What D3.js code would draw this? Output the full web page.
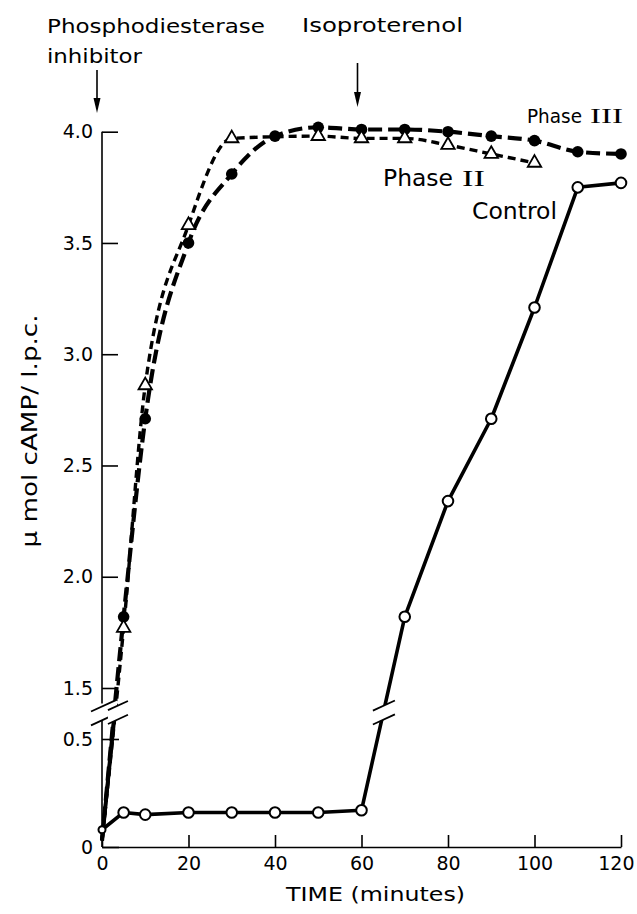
<!DOCTYPE html>
<html>
<head>
<meta charset="utf-8">
<script src="https://cdn.jsdelivr.net/npm/d3@7"></script>
<style>
  body { margin: 0; background: #fff; }
</style>
</head>
<body>
<div id="chart"></div>
<script>
// values (minutes, umol cAMP / l.p.c.)
const times = [0, 5, 10, 20, 30, 40, 50, 60, 70, 80, 90, 100, 110, 120];
const phase3 = [0.03, 1.82, 2.71, 3.50, 3.81, 3.98, 4.02, 4.01, 4.01, 4.00, 3.98, 3.96, 3.91, 3.90];
const phase2Times = [0, 5, 10, 20, 30, 50, 60, 70, 80, 90, 100];
const phase2 = [0.03, 1.77, 2.86, 3.58, 3.97, 3.98, 3.97, 3.97, 3.94, 3.90, 3.86];
const control = [0.08, 0.16, 0.15, 0.16, 0.16, 0.16, 0.16, 0.17, 1.82, 2.34, 2.71, 3.21, 3.75, 3.77];
const xTicks = [0, 20, 40, 60, 80, 100, 120];
const yTicksUpper = [1.5, 2.0, 2.5, 3.0, 3.5, 4.0];
const yTicksLower = [0, 0.5];

const W = 637, H = 914;
const FONT = '"DejaVu Sans", "Liberation Sans", sans-serif';
const SERIF = '"Liberation Serif", "DejaVu Serif", serif';

const svg = d3.select('#chart').append('svg')
  .attr('width', W)
  .attr('height', H)
  .style('font-family', FONT);

// broken y axis: two linear pieces
const x = d3.scaleLinear().domain([0, 120]).range([102, 621]);
const yHigh = d3.scaleLinear().domain([1.5, 4.0]).range([688, 131.7]);
const yLow = d3.scaleLinear().domain([0, 0.5]).range([847, 739]);
const HIGH_MIN = 1.43, LOW_MAX = 0.6;
const y = v => (v < 1 ? yLow(v) : yHigh(v));

const toPts = (ts, vs) => ts.map((t, i) => ({ t, v: vs[i] }));
const p3 = toPts(times, phase3);
const p2 = toPts(phase2Times, phase2);
const ctl = toPts(times, control);

// ---- axes ----
const styleAxis = g => {
  g.attr('font-size', 19).attr('font-family', FONT);
  g.selectAll('line').attr('stroke', '#000').attr('stroke-width', 1.6);
  g.selectAll('path').attr('stroke', '#000').attr('stroke-width', 1.6);
  g.selectAll('text').attr('fill', '#000');
};

const gHigh = svg.append('g')
  .attr('transform', `translate(${x(0)},0)`)
  .call(d3.axisLeft(yHigh).tickValues(yTicksUpper).tickFormat(d3.format('.1f'))
    .tickSizeInner(-16).tickSizeOuter(0).tickPadding(9));
gHigh.select('.domain').remove();
gHigh.append('line').attr('y1', yHigh(4.0)).attr('y2', yHigh(HIGH_MIN));
styleAxis(gHigh);

const gLow = svg.append('g')
  .attr('transform', `translate(${x(0)},0)`)
  .call(d3.axisLeft(yLow).tickValues(yTicksLower)
    .tickFormat(d => (d === 0 ? '0' : d3.format('.1f')(d)))
    .tickSizeInner(-17).tickSizeOuter(0).tickPadding(9));
gLow.select('.domain').remove();
gLow.append('line').attr('y1', yLow(0)).attr('y2', yLow(LOW_MAX));
styleAxis(gLow);

const gX = svg.append('g')
  .attr('transform', `translate(0,${yLow(0)})`)
  .call(d3.axisBottom(x).tickValues(xTicks).tickSizeInner(-12).tickSizeOuter(0).tickPadding(10));
styleAxis(gX);
// keep the last label inside the page
gX.selectAll('.tick text').filter(d => d === 120)
  .attr('text-anchor', 'end').attr('x', W - 3 - x(120));

// ---- lines ----
const lineSmooth = d3.line().x(d => x(d.t)).y(d => y(d.v)).curve(d3.curveMonotoneX);
const lineStraight = d3.line().x(d => x(d.t)).y(d => y(d.v));

svg.append('clipPath').attr('id', 'lowClip')
  .append('rect').attr('x', 0).attr('y', yLow(LOW_MAX)).attr('width', W).attr('height', H);

const path2 = svg.append('path').datum(p2)
  .attr('d', lineSmooth).attr('fill', 'none').attr('stroke', '#000')
  .attr('stroke-width', 3.4).attr('stroke-dasharray', '8,5');
const path3 = svg.append('path').datum(p3)
  .attr('d', lineSmooth).attr('fill', 'none').attr('stroke', '#000')
  .attr('stroke-width', 4.2).attr('stroke-dasharray', '14,6');
// below the break the two phases are drawn solid
[p2, p3].forEach(s => {
  svg.append('path').datum(s)
    .attr('d', lineSmooth).attr('fill', 'none').attr('stroke', '#000')
    .attr('stroke-width', 3.6).attr('clip-path', 'url(#lowClip)');
});
const pathC = svg.append('path').datum(ctl)
  .attr('d', lineStraight).attr('fill', 'none').attr('stroke', '#000')
  .attr('stroke-width', 3.6).attr('stroke-linejoin', 'round');

// ---- axis breaks ----
const breakMid = (yHigh(HIGH_MIN) + yLow(LOW_MAX)) / 2;
function crossing(node) {
  const L = node.getTotalLength();
  let prev = node.getPointAtLength(0);
  for (let s = 1; s <= L; s += 0.5) {
    const p = node.getPointAtLength(s);
    if ((prev.y - breakMid) * (p.y - breakMid) <= 0) return p.x;
    prev = p;
  }
  return null;
}
function drawBreak(cx, half) {
  const slope = 0.46;
  const yA = yHigh(HIGH_MIN) + 2, yB = yLow(LOW_MAX) + 2;
  const seg = yy => [[cx - half, yy + half * slope], [cx + half, yy - half * slope]];
  const a = seg(yA), b = seg(yB);
  svg.append('path')
    .attr('d', d3.line()([a[0], a[1], b[1], b[0]]) + 'Z')
    .attr('fill', '#fff');
  [a, b].forEach(s => svg.append('path').attr('d', d3.line()(s))
    .attr('stroke', '#000').attr('stroke-width', 1.8));
}
drawBreak(x(0) + 2, 13);
const phaseX = (crossing(path2.node()) + crossing(path3.node())) / 2;
drawBreak(phaseX + 3, 10);
drawBreak(crossing(pathC.node()), 11);

// ---- markers ----
svg.append('g').selectAll('circle').data(p3.slice(1)).join('circle')
  .attr('cx', d => x(d.t)).attr('cy', d => y(d.v)).attr('r', 5.8).attr('fill', '#000');

svg.append('g').selectAll('path').data(p2.slice(1)).join('path')
  .attr('d', d3.symbol(d3.symbolTriangle, 78))
  .attr('transform', d => `translate(${x(d.t)},${y(d.v)})`)
  .attr('fill', '#fff').attr('stroke', '#000').attr('stroke-width', 1.8);

svg.append('g').selectAll('circle').data(ctl).join('circle')
  .attr('cx', d => x(d.t)).attr('cy', d => y(d.v))
  .attr('r', (d, i) => (i === 0 ? 3.5 : 5.3))
  .attr('fill', '#fff').attr('stroke', '#000').attr('stroke-width', 2);

// ---- text ----
const label = (txt, tx, ty, size, len, family) => svg.append('text')
  .attr('x', tx).attr('y', ty).attr('font-size', size)
  .attr('font-family', family || FONT)
  .attr('textLength', len).attr('lengthAdjust', 'spacingAndGlyphs')
  .text(txt);

label('Phosphodiesterase', 47, 33, 20, 218);
label('inhibitor', 47, 63, 20, 95);
label('Isoproterenol', 302, 32, 20, 161);
label('Phase', 527, 123, 19, 55);
label('III', 590, 123, 21, 33, SERIF);
label('Phase', 383, 186, 23, 70);
label('II', 462, 186, 23, 23, SERIF);
label('Control', 472, 219, 23, 85);
label('TIME (minutes)', 286, 901, 19, 179);

svg.append('text')
  .attr('transform', 'translate(37,431) rotate(-90)')
  .attr('text-anchor', 'middle')
  .attr('font-size', 22)
  .attr('textLength', 233).attr('lengthAdjust', 'spacingAndGlyphs')
  .text('\u03bc mol cAMP/ l.p.c.');

// ---- arrows ----
function arrow(ax, yTop, yTip) {
  svg.append('line').attr('x1', ax).attr('x2', ax).attr('y1', yTop).attr('y2', yTip - 8)
    .attr('stroke', '#000').attr('stroke-width', 1.6);
  svg.append('path')
    .attr('d', d3.line()([[ax - 3.5, yTip - 15], [ax + 3.5, yTip - 15], [ax, yTip]]) + 'Z')
    .attr('fill', '#000');
}
arrow(x(0) - 5, 70, 113);
arrow(x(60) - 4, 63, 107);
</script>
</body>
</html>
